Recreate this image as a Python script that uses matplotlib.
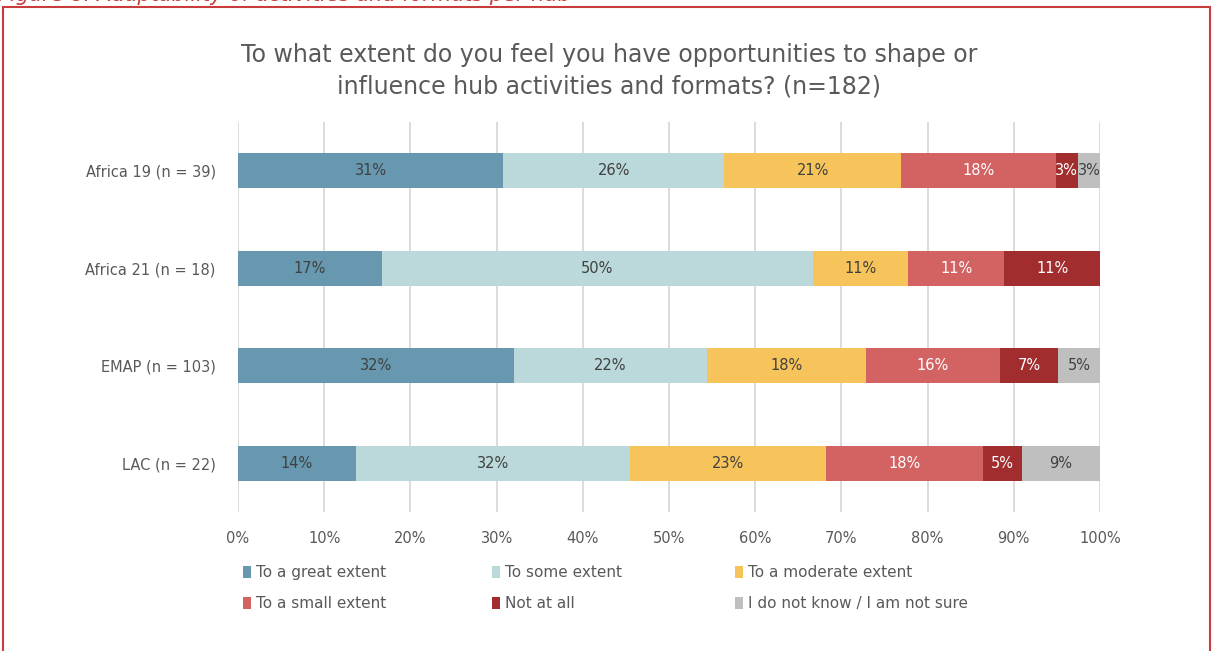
import matplotlib
matplotlib.use("Agg")
import matplotlib.pyplot as plt
from matplotlib.patches import Rectangle, Patch
import numpy as np

plt.rcParams['font.family'] = ['DejaVu Sans']

# Survey responses per hub (share of respondents, %)
hubs = ["Africa 19 (n = 39)", "Africa 21 (n = 18)", "EMAP (n = 103)", "LAC (n = 22)"]
categories = ["To a great extent", "To some extent", "To a moderate extent",
              "To a small extent", "Not at all", "I do not know / I am not sure"]
great_extent = [30.77, 16.67, 32.04, 13.64]
some_extent = [25.64, 50.00, 22.33, 31.82]
moderate_extent = [20.51, 11.11, 18.45, 22.73]
small_extent = [17.95, 11.11, 15.53, 18.18]
not_at_all = [2.56, 11.11, 6.80, 4.55]
dont_know = [2.56, 0.00, 4.85, 9.09]
x_ticks = [0, 10, 20, 30, 40, 50, 60, 70, 80, 90, 100]

series = [great_extent, some_extent, moderate_extent, small_extent, not_at_all, dont_know]
colors = ["#6798B0", "#BBD8DA", "#F6C45A", "#D36363", "#A12D2E", "#BFBFBF"]
label_colors = ["#404040", "#404040", "#404040", "#FFFFFF", "#FFFFFF", "#404040"]
text_grey = "#595959"

fig = plt.figure(figsize=(12.12, 6.51), dpi=100)
ax = fig.add_axes([238 / 1212, 1 - 512 / 651, 862 / 1212, 390 / 651])

y = np.arange(len(hubs))
left = np.zeros(len(hubs))
for vals, col, lcol, name in zip(series, colors, label_colors, categories):
    vals = np.array(vals)
    ax.barh(y, vals, left=left, height=0.355, color=col, edgecolor='none',
            label=name, zorder=3)
    for yi, (v, l) in enumerate(zip(vals, left)):
        if v > 0:
            ax.text(l + v / 2, yi, f"{v:.0f}%", ha='center', va='center',
                    fontsize=10.5, color=lcol, zorder=4)
    left = left + vals

ax.set_xlim(0, 100)
ax.set_ylim(len(hubs) - 0.5, -0.5)
ax.set_yticks(y)
ax.set_yticklabels(hubs, fontsize=10.5, color=text_grey)
ax.set_xticks(x_ticks)
ax.set_xticklabels([f"{t}%" for t in x_ticks], fontsize=10.5, color=text_grey)
ax.tick_params(axis='both', length=0)
ax.tick_params(axis='y', pad=16)
ax.tick_params(axis='x', pad=14)
ax.grid(axis='x', color='#D9D9D9', linewidth=1.3, zorder=0)
for s in ax.spines.values():
    s.set_visible(False)

fig.text(609 / 1212, 1 - 71 / 651,
         "To what extent do you feel you have opportunities to shape or\n"
         "influence hub activities and formats? (n=182)",
         ha='center', va='center', fontsize=17, color=text_grey, linespacing=1.38)

# Legend laid out as three columns of two rows
cols = [(0, 3), (1, 4), (2, 5)]
col_x = [243, 492, 735]
for (a, b), cx in zip(cols, col_x):
    hs = [Patch(facecolor=colors[a]), Patch(facecolor=colors[b])]
    fig.legend(hs, [categories[a], categories[b]], loc='upper left',
               bbox_to_anchor=(cx / 1212, 1 - 565 / 651), frameon=False,
               fontsize=11, labelcolor=text_grey, handlelength=0.55,
               handleheight=0.8, handletextpad=0.3, labelspacing=1.05,
               borderpad=0, borderaxespad=0)

# Surrounding frame and figure caption
fig.patches.append(Rectangle((3 / 1212, -0.05), 1207 / 1212, 1.05 - 7 / 651,
                             transform=fig.transFigure, fill=False,
                             edgecolor='#C83C3C', linewidth=1.5))
fig.text(-2 / 1212, 1 - 1 / 651, "Figure 8: Adaptability of activities and formats per hub",
         ha='left', va='baseline', fontsize=15, style='italic', color='#C83C3C')

fig.savefig("out.png", dpi=100)
